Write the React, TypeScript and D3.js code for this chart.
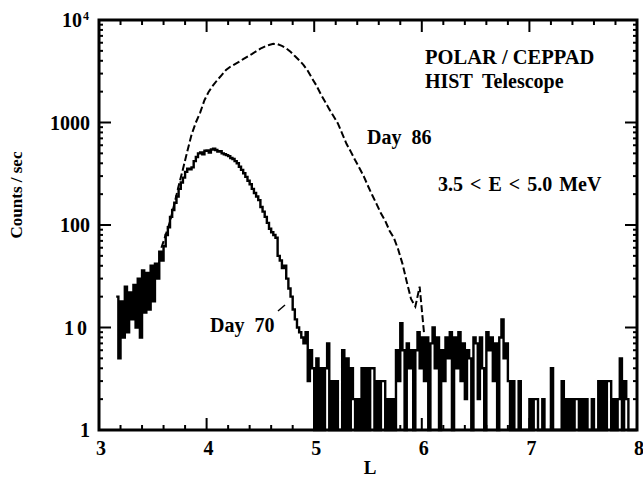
import React, { useEffect, useRef } from "react";
import * as d3 from "d3";

const lTicks = [3, 4, 5, 6, 7, 8];
const countTicks = [1, 10, 100, 1000, 10000];
const countLabels = ["1", "10", "100", "1000", "10"];

// Day 70, 0.02 L bins starting at L = 3.16
const day70Start = 3.16;
const day70Step = 0.02;
const day70Counts = [
  20, 5, 18, 8, 25, 9, 22, 12, 26, 10, 30, 8, 36, 14, 34, 15, 40, 18, 42, 30, 55, 45,
  62, 80, 95, 120, 140, 165, 190, 225, 260, 290, 330, 355, 350, 365, 420, 460, 500, 510,
  490, 530, 535, 510, 545, 555, 540, 520, 525, 500, 490, 480, 470, 450, 440, 420, 400, 370,
  345, 320, 295, 270, 250, 225, 205, 190, 175, 150, 135, 120, 105, 92, 85, 80, 75, 50,
  45, 38, 40, 30, 24, 20, 15, 12, 10, 9, 8, 7, 9, 3, 6, 4,
  1, 5, 1, 4, 1, 4, 7, 1, 3, 1, 3, 1, 1, 6, 1, 5, 1, 4, 2, 1,
  2, 1, 4, 1, 4, 1, 4, 4, 1, 3, 1, 3, 3, 1, 2, 1, 2, 1, 6, 3,
  11, 6, 1, 7, 4, 6, 1, 6, 9, 4, 8, 3, 8, 1, 7, 10, 4, 8, 1, 6,
  3, 8, 5, 9, 1, 8, 4, 9, 3, 7, 2, 6, 5, 1, 8, 7, 2, 8, 4, 1,
  9, 6, 8, 3, 7, 1, 8, 12, 5, 7, 3, 1, 3, 1, 1, 3,
  1, 1, 1, 1, 2, 1, 2, 2, 1, 1, 2, 1, 1, 1, 4, 1, 1, 1, 1, 3,
  1, 2, 1, 2, 1, 2, 2, 1, 2, 1, 2, 1, 1, 2, 1, 1, 3, 1, 3, 1,
  3, 3, 1, 2, 1, 2, 5, 1, 3, 2, 1, 1, 1, 1, 1,
];

// Day 86, 0.04 L bins starting at L = 3.58
const day86Start = 3.58;
const day86Step = 0.04;
const day86Counts = [
  60, 80, 108, 160, 240, 350, 520, 760, 1000, 1250, 1650, 2000, 2300, 2600, 2900, 3250,
  3500, 3700, 3900, 4150, 4400, 4650, 4950, 5250, 5500, 5700, 5850, 5800, 5600, 5300,
  4900, 4450, 4050, 3650, 3200, 2700, 2300, 1900, 1600, 1350, 1150, 980, 780, 620, 520,
  430, 360, 300, 240, 195, 160, 130, 110, 88, 75, 58, 42, 28, 19, 16, 25, 9,
];

const width = 643;
const height = 477;
const font = "'Liberation Serif', 'Times New Roman', serif";

export default function App() {
  const svgRef = useRef<SVGSVGElement>(null);

  useEffect(() => {
    const svg = d3.select(svgRef.current);
    svg.selectAll("*").remove();

    const x = d3.scaleLinear().domain([3, 8]).range([99, 637]);
    const y = d3.scaleLog().domain([1, 10000]).range([430, 20]);

    const day70 = day70Counts.map((c, i) => ({ l: day70Start + i * day70Step, c }));
    const day86 = day86Counts.map((c, i) => ({ l: day86Start + i * day86Step, c }));

    // curves
    const line70 = d3.line<{ l: number; c: number }>()
      .x(d => x(d.l))
      .y(d => y(Math.max(1, d.c)))
      .curve(d3.curveStepAfter);
    const line86 = d3.line<{ l: number; c: number }>()
      .x(d => x(d.l))
      .y(d => y(d.c));

    svg.append("path")
      .attr("d", line86(day86))
      .attr("fill", "none")
      .attr("stroke", "#000")
      .attr("stroke-width", 2)
      .attr("stroke-dasharray", "7,3");

    svg.append("path")
      .attr("d", line70(day70))
      .attr("fill", "none")
      .attr("stroke", "#000")
      .attr("stroke-width", 2.4);

    // ticks, inward on all four sides
    const minorL = d3.range(3, 8.001, 0.2).filter(v => Math.abs(v - Math.round(v)) > 0.01);
    const minorC: number[] = [];
    [1, 10, 100, 1000].forEach(d => { for (let k = 2; k <= 9; k++) minorC.push(d * k); });

    const ticks = svg.append("g").attr("stroke", "#000");
    const tick = (x1: number, y1: number, x2: number, y2: number, w: number) =>
      ticks.append("line").attr("x1", x1).attr("y1", y1).attr("x2", x2).attr("y2", y2).attr("stroke-width", w);

    lTicks.forEach(v => { tick(x(v), 430, x(v), 418, 2); tick(x(v), 20, x(v), 32, 2); });
    minorL.forEach(v => { tick(x(v), 430, x(v), 425, 2); tick(x(v), 20, x(v), 25, 2); });
    countTicks.forEach(v => { tick(99, y(v), 111, y(v), 2); tick(637, y(v), 625, y(v), 2); });
    minorC.forEach(v => { tick(99, y(v), 103, y(v), 2); tick(637, y(v), 633, y(v), 2); });

    svg.append("rect")
      .attr("x", 99).attr("y", 20).attr("width", 538).attr("height", 410)
      .attr("fill", "none").attr("stroke", "#000").attr("stroke-width", 3);

    // labels
    const text = (t: string, tx: number, ty: number, size: number, anchor = "start") =>
      svg.append("text")
        .attr("x", tx).attr("y", ty)
        .attr("font-family", font).attr("font-weight", "bold")
        .attr("font-size", size).attr("text-anchor", anchor)
        .style("white-space", "pre")
        .text(t);

    lTicks.forEach(v => text(String(v), x(v) + 2, 455, 20, "middle"));
    countTicks.forEach((v, i) => {
      const t = text(countLabels[i], 90, y(v) + 7, 20, "end");
      if (v === 10) t.attr("letter-spacing", 3);
      if (v === 10000) t.attr("x", 82);
    });
    text("4", 83, 20, 12);

    text("L", 370, 474, 19, "middle");
    text("Counts / sec", 0, 0, 17, "middle").attr("transform", "translate(22,195) rotate(-90)");

    text("POLAR / CEPPAD", 425, 64, 20.5);
    text("HIST  Telescope", 425, 88, 20);
    text("Day  86", 367, 144, 20);
    text("3.5 < E < 5.0 MeV", 438, 191, 20).attr("word-spacing", 2);
    text("Day  70", 210, 332, 20);
    svg.append("line")
      .attr("x1", 278).attr("y1", 311).attr("x2", 285).attr("y2", 305)
      .attr("stroke", "#000").attr("stroke-width", 1.5);
  }, []);

  return (
    <svg
      ref={svgRef}
      width={width}
      height={height}
      style={{ position: "absolute", left: 0, top: 0, background: "#fff" }}
    />
  );
}
